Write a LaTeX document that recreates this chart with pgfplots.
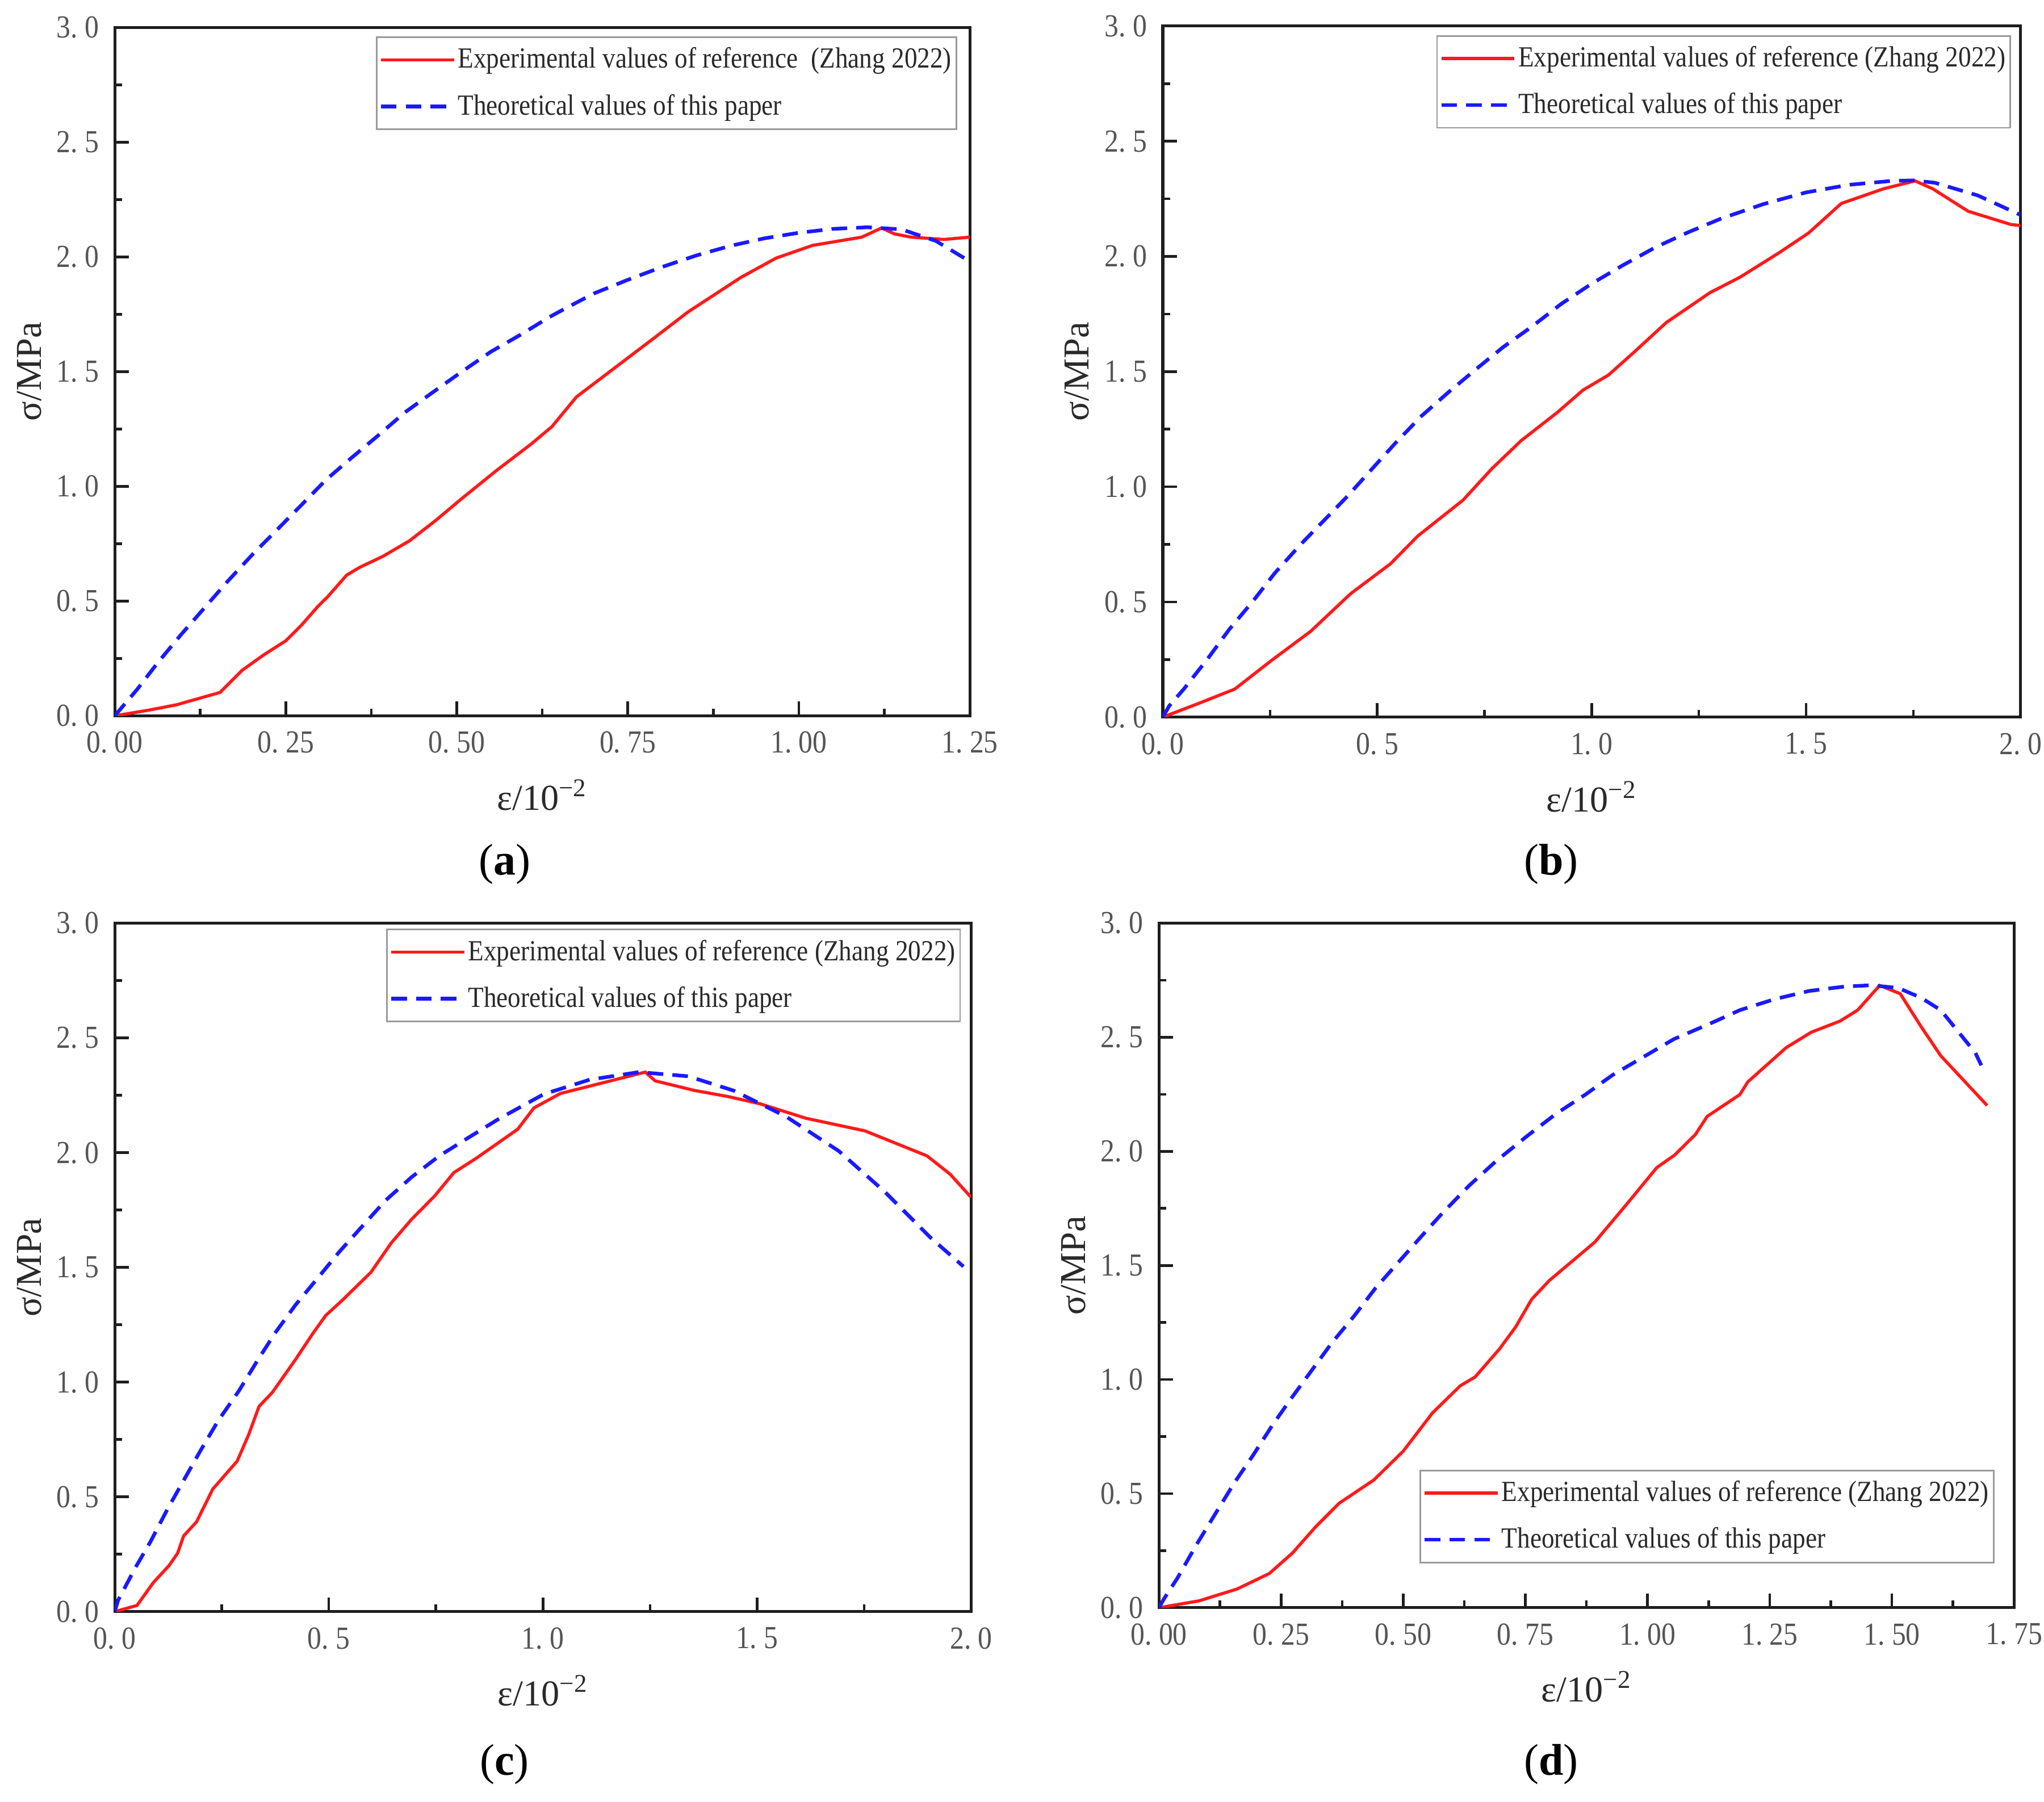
\documentclass[border=0pt]{standalone}
\usepackage{fontspec}
\setmainfont{Liberation Serif}
\newfontfamily\narrowserif{Liberation Serif}[FakeStretch=0.88]
\usepackage{pgfplots}
\pgfplotsset{compat=1.18}

\definecolor{axiscol}{HTML}{1E1E1E}
\definecolor{tickcol}{HTML}{555555}
\definecolor{labelcol}{HTML}{2A2A2A}
\definecolor{legcol}{HTML}{9A9A9A}
\definecolor{expred}{HTML}{FF1A1A}
\definecolor{theoblue}{HTML}{1A1AFF}

\pgfplotsset{
  panel/.style={
    scale only axis,
    xmin=0, ymin=0, ymax=3,
    ytick={0,0.5,...,3},
    yticklabels={0.\ 0,0.\ 5,1.\ 0,1.\ 5,2.\ 0,2.\ 5,3.\ 0},
    minor tick num=1,
    tick pos=left,
    tick align=inside,
    major tick length=5.5pt,
    minor tick length=2.8pt,
    axis line style={line width=1.1pt, axiscol},
    every tick/.style={axiscol, line width=1pt},
    tick label style={font=\narrowserif\fontsize{12.3}{14}\selectfont, text=tickcol},
    xticklabel style={yshift=-2.5pt},
    yticklabel style={xshift=-2.5pt},
    label style={font=\fontsize{14}{16}\selectfont, text=labelcol},
    xlabel={ε/10\textsuperscript{\char"2212 2}},
    ylabel={σ/MPa},
    xlabel style={at={(axis description cs:0.5,-0.115)}, anchor=center},
    ylabel style={at={(axis description cs:-0.1,0.5)}, anchor=center},
    legend cell align=left,
    legend style={
      draw=legcol, line width=0.6pt, fill=white,
      font=\narrowserif\fontsize{11.2}{13}\selectfont, text=labelcol,
      inner xsep=1pt, inner ysep=2.5pt, row sep=5.5pt,
      nodes={inner xsep=0.8pt, inner ysep=1.5pt}
    },
    legend image code/.code={\draw[##1] (0pt,0pt)--(28pt,0pt);},
  },
  exp/.style={expred, line width=1.2pt},
  theo/.style={theoblue, line width=1.4pt, dash pattern=on 6pt off 3.5pt},
}

\begin{document}
\begin{tikzpicture}
\useasboundingbox (0pt,0pt) rectangle (784pt,-691pt);

%% (a)
\begin{axis}[panel,
  at={(44pt,-274.5pt)}, anchor=south west,
  width=328pt, height=264pt,
  xmax=1.25,
  xtick={0,0.25,...,1.25},
  xticklabels={0.\ 00,0.\ 25,0.\ 50,0.\ 75,1.\ 00,1.\ 25},
  legend style={at={(axis description cs:0.985,0.987)}, anchor=north east},
]
\addplot[exp] coordinates {
  (0,0) (0.05,0.025) (0.09,0.048) (0.154,0.102) (0.186,0.198) (0.218,0.266)
  (0.25,0.327) (0.273,0.395) (0.297,0.477) (0.311,0.518) (0.339,0.613)
  (0.358,0.647) (0.392,0.695) (0.431,0.763) (0.469,0.851) (0.507,0.946)
  (0.558,1.069) (0.609,1.185) (0.639,1.26) (0.675,1.39) (0.752,1.564)
  (0.79,1.65) (0.838,1.76) (0.915,1.91) (0.967,1.995) (1.02,2.05)
  (1.092,2.086) (1.121,2.126) (1.14,2.10) (1.164,2.086) (1.212,2.076)
  (1.25,2.086)
};
\addlegendentry{Experimental values of reference\ \ (Zhang 2022)}
\addplot[theo] coordinates {
  (0,0) (0.033,0.116) (0.063,0.232) (0.097,0.354) (0.131,0.47) (0.165,0.586)
  (0.201,0.702) (0.235,0.804) (0.271,0.913) (0.309,1.029) (0.346,1.124)
  (0.384,1.219) (0.424,1.322) (0.465,1.41) (0.507,1.499) (0.55,1.587)
  (0.594,1.662) (0.635,1.737) (0.656,1.771) (0.7,1.84) (0.75,1.9)
  (0.8,1.956) (0.85,2.006) (0.9,2.048) (0.95,2.081) (1.0,2.105)
  (1.05,2.122) (1.1,2.129) (1.15,2.12) (1.2,2.07) (1.25,1.98)
};
\addlegendentry{Theoretical values of this paper}
\end{axis}

%% (b)
\begin{axis}[panel,
  at={(446pt,-275pt)}, anchor=south west,
  width=329pt, height=265pt,
  xmax=2.0,
  xtick={0,0.5,...,2.0},
  xticklabels={0.\ 0,0.\ 5,1.\ 0,1.\ 5,2.\ 0},
  legend style={at={(axis description cs:0.989,0.987)}, anchor=north east},
]
\addplot[exp] coordinates {
  (0,0) (0.084,0.06) (0.168,0.122) (0.252,0.244) (0.345,0.373) (0.438,0.536)
  (0.531,0.666) (0.595,0.787) (0.70,0.942) (0.768,1.08) (0.836,1.201)
  (0.92,1.323) (0.98,1.42) (1.039,1.485) (1.098,1.583) (1.174,1.713)
  (1.276,1.843) (1.346,1.91) (1.437,2.016) (1.506,2.102) (1.582,2.23)
  (1.681,2.294) (1.754,2.328) (1.795,2.294) (1.878,2.196) (1.977,2.139)
  (2.0,2.134)
};
\addlegendentry{Experimental values of reference (Zhang 2022)}
\addplot[theo] coordinates {
  (0,0) (0.015,0.049) (0.049,0.122) (0.104,0.252) (0.155,0.381) (0.21,0.503)
  (0.261,0.625) (0.32,0.747) (0.379,0.86) (0.43,0.958) (0.489,1.08)
  (0.544,1.193) (0.603,1.307) (0.667,1.412) (0.73,1.51) (0.794,1.607)
  (0.861,1.696) (0.929,1.794) (1.001,1.883) (1.073,1.962) (1.149,2.04)
  (1.225,2.105) (1.3,2.163) (1.4,2.227) (1.5,2.278) (1.6,2.311)
  (1.7,2.328) (1.75,2.33) (1.8,2.32) (1.9,2.265) (2.0,2.18)
};
\addlegendentry{Theoretical values of this paper}
\end{axis}

%% (c)
\begin{axis}[panel,
  at={(44pt,-618pt)}, anchor=south west,
  width=328.5pt, height=264pt,
  xmax=2.0,
  xtick={0,0.5,...,2.0},
  xticklabels={0.\ 0,0.\ 5,1.\ 0,1.\ 5,2.\ 0},
  legend style={at={(axis description cs:0.988,0.992)}, anchor=north east},
]
\addplot[exp] coordinates {
  (0,0) (0.052,0.027) (0.090,0.126) (0.127,0.201) (0.147,0.255) (0.161,0.330)
  (0.191,0.391) (0.229,0.534) (0.286,0.656) (0.313,0.772) (0.337,0.894)
  (0.368,0.955) (0.422,1.098) (0.463,1.213) (0.493,1.291) (0.531,1.356)
  (0.598,1.478) (0.646,1.607) (0.693,1.709) (0.747,1.811) (0.792,1.913)
  (0.843,1.974) (0.941,2.102) (0.979,2.195) (1.041,2.258) (1.239,2.351)
  (1.262,2.313) (1.354,2.271) (1.431,2.245) (1.507,2.213) (1.614,2.150)
  (1.752,2.095) (1.897,1.986) (1.951,1.906) (2.0,1.805)
};
\addlegendentry{Experimental values of reference (Zhang 2022)}
\addplot[theo] coordinates {
  (0,0) (0.008,0.05) (0.049,0.194) (0.083,0.303) (0.123,0.446) (0.168,0.595)
  (0.201,0.704) (0.242,0.833) (0.29,0.962) (0.33,1.084) (0.374,1.213)
  (0.422,1.336) (0.473,1.451) (0.524,1.567) (0.578,1.679) (0.632,1.791)
  (0.693,1.893) (0.758,1.986) (0.83,2.07) (0.895,2.145) (1.002,2.255)
  (1.109,2.318) (1.224,2.351) (1.339,2.333) (1.446,2.27) (1.568,2.157)
  (1.691,2.007) (1.798,1.83) (1.905,1.63) (1.982,1.504)
};
\addlegendentry{Theoretical values of this paper}
\end{axis}

%% (d)
\begin{axis}[panel,
  at={(444.5pt,-616.5pt)}, anchor=south west,
  width=328pt, height=262.5pt,
  xmax=1.75,
  xtick={0,0.25,...,1.75},
  xticklabels={0.\ 00,0.\ 25,0.\ 50,0.\ 75,1.\ 00,1.\ 25,1.\ 50,1.\ 75},
  legend style={at={(axis description cs:0.977,0.065)}, anchor=south east},
]
\addplot[exp] coordinates {
  (0,0) (0.082,0.03) (0.16,0.082) (0.226,0.15) (0.273,0.239) (0.321,0.355)
  (0.369,0.458) (0.44,0.56) (0.5,0.686) (0.56,0.854) (0.617,0.973)
  (0.647,1.011) (0.697,1.134) (0.73,1.23) (0.763,1.352) (0.799,1.434)
  (0.892,1.602) (0.956,1.765) (1.019,1.929) (1.055,1.983) (1.098,2.074)
  (1.122,2.153) (1.189,2.249) (1.205,2.304) (1.284,2.455) (1.335,2.522)
  (1.394,2.571) (1.43,2.619) (1.475,2.727) (1.517,2.691) (1.56,2.546)
  (1.6,2.419) (1.695,2.201)
};
\addlegendentry{Experimental values of reference (Zhang 2022)}
\addplot[theo] coordinates {
  (0,0) (0.011,0.041) (0.038,0.13) (0.076,0.273) (0.115,0.41) (0.154,0.546)
  (0.193,0.669) (0.232,0.799) (0.27,0.915) (0.312,1.038) (0.354,1.161)
  (0.399,1.277) (0.443,1.40) (0.491,1.516) (0.539,1.632) (0.58,1.729)
  (0.635,1.85) (0.691,1.959) (0.754,2.068) (0.813,2.165) (0.873,2.249)
  (0.928,2.334) (0.991,2.413) (1.054,2.492) (1.126,2.558) (1.189,2.619)
  (1.26,2.667) (1.331,2.703) (1.402,2.722) (1.458,2.728) (1.513,2.716)
  (1.56,2.673) (1.6,2.619) (1.639,2.516) (1.671,2.431) (1.683,2.377)
};
\addlegendentry{Theoretical values of this paper}
\end{axis}

%% captions
\node[font=\fontsize{17}{19}\selectfont] at (193.5pt,-331.5pt) {(\textbf{a})};
\node[font=\fontsize{17}{19}\selectfont] at (595pt,-331.5pt) {(\textbf{b})};
\node[font=\fontsize{17}{19}\selectfont] at (193.5pt,-676.5pt) {(\textbf{c})};
\node[font=\fontsize{17}{19}\selectfont] at (595pt,-676.5pt) {(\textbf{d})};
\end{tikzpicture}
\end{document}
